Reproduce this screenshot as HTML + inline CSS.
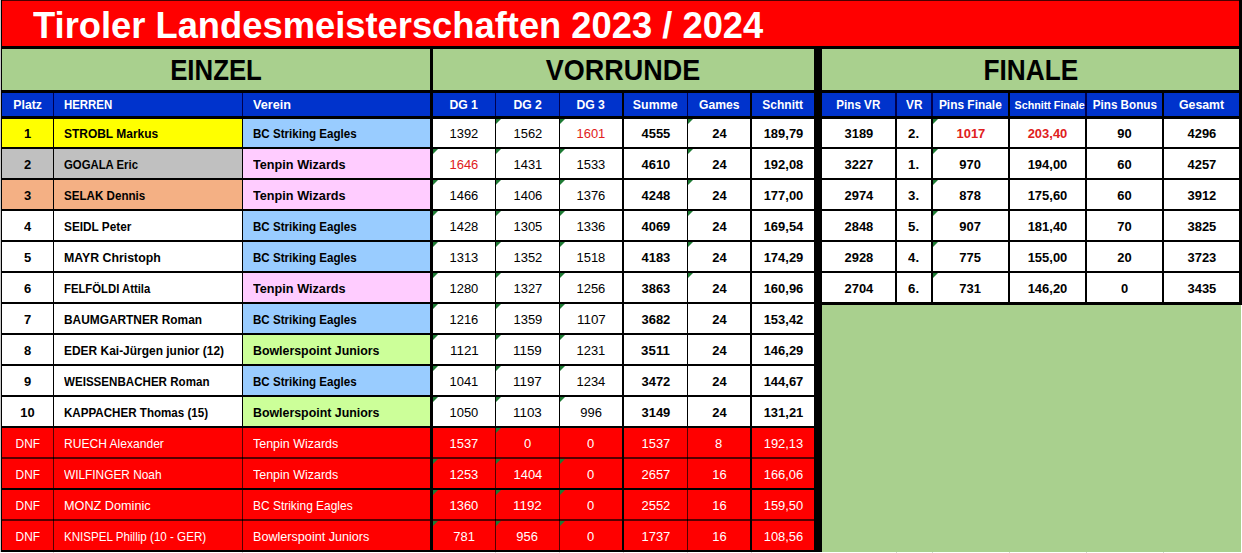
<!DOCTYPE html>
<html><head><meta charset="utf-8"><title>Tiroler Landesmeisterschaften 2023 / 2024</title><style>
html,body{margin:0;padding:0}
body{width:1242px;height:553px;overflow:hidden;position:relative;background:#fff;font-family:"Liberation Sans", sans-serif}
.r{position:absolute}
.t{position:absolute;white-space:pre}
.tri{position:absolute;width:0;height:0;border-top:5px solid #1E7B34;border-right:5px solid transparent}
</style></head><body>
<div class="r" style="left:0px;top:0px;width:1px;height:553px;background:#C8C8C8"></div>
<div class="r" style="left:1px;top:0px;width:1241px;height:552px;background:#000"></div>
<div class="r" style="left:0px;top:552px;width:1242px;height:1px;background:#FFFFFF"></div>
<div class="r" style="left:2px;top:1px;width:1237px;height:45px;background:#FF0000"></div>
<div class="r" style="left:2px;top:0px;width:1237px;height:1px;background:#4A0000"></div>
<div class="r" style="left:53px;top:552px;width:1px;height:1px;background:#D4D4D4"></div>
<div class="r" style="left:242px;top:552px;width:1px;height:1px;background:#D4D4D4"></div>
<div class="r" style="left:495px;top:552px;width:1px;height:1px;background:#D4D4D4"></div>
<div class="r" style="left:559px;top:552px;width:1px;height:1px;background:#D4D4D4"></div>
<div class="r" style="left:623px;top:552px;width:1px;height:1px;background:#D4D4D4"></div>
<div class="r" style="left:687px;top:552px;width:1px;height:1px;background:#D4D4D4"></div>
<div class="r" style="left:751px;top:552px;width:1px;height:1px;background:#D4D4D4"></div>
<div class="r" style="left:896px;top:552px;width:1px;height:1px;background:#D4D4D4"></div>
<div class="r" style="left:932px;top:552px;width:1px;height:1px;background:#D4D4D4"></div>
<div class="r" style="left:1009px;top:552px;width:1px;height:1px;background:#D4D4D4"></div>
<div class="r" style="left:1086px;top:552px;width:1px;height:1px;background:#D4D4D4"></div>
<div class="r" style="left:1163px;top:552px;width:1px;height:1px;background:#D4D4D4"></div>
<div class="r" style="left:2px;top:49px;width:428px;height:41px;background:#A9D08E"></div>
<div class="r" style="left:433px;top:49px;width:381px;height:41px;background:#A9D08E"></div>
<div class="r" style="left:822px;top:49px;width:417px;height:41px;background:#A9D08E"></div>
<div class="r" style="left:2px;top:93px;width:51px;height:23px;background:#0033CC"></div>
<div class="r" style="left:54px;top:93px;width:188px;height:23px;background:#0033CC"></div>
<div class="r" style="left:243px;top:93px;width:187px;height:23px;background:#0033CC"></div>
<div class="r" style="left:433px;top:93px;width:62px;height:23px;background:#0033CC"></div>
<div class="r" style="left:496px;top:93px;width:63px;height:23px;background:#0033CC"></div>
<div class="r" style="left:560px;top:93px;width:62px;height:23px;background:#0033CC"></div>
<div class="r" style="left:624px;top:93px;width:63px;height:23px;background:#0033CC"></div>
<div class="r" style="left:688px;top:93px;width:62px;height:23px;background:#0033CC"></div>
<div class="r" style="left:752px;top:93px;width:62px;height:23px;background:#0033CC"></div>
<div class="r" style="left:822px;top:93px;width:73px;height:23px;background:#0033CC"></div>
<div class="r" style="left:897px;top:93px;width:34px;height:23px;background:#0033CC"></div>
<div class="r" style="left:933px;top:93px;width:75px;height:23px;background:#0033CC"></div>
<div class="r" style="left:1010px;top:93px;width:75px;height:23px;background:#0033CC"></div>
<div class="r" style="left:1087px;top:93px;width:75px;height:23px;background:#0033CC"></div>
<div class="r" style="left:1164px;top:93px;width:75px;height:23px;background:#0033CC"></div>
<div class="r" style="left:53px;top:93px;width:1px;height:23px;background:#00004E"></div>
<div class="r" style="left:242px;top:93px;width:1px;height:23px;background:#00004E"></div>
<div class="r" style="left:495px;top:93px;width:1px;height:23px;background:#00004E"></div>
<div class="r" style="left:559px;top:93px;width:1px;height:23px;background:#00004E"></div>
<div class="r" style="left:687px;top:93px;width:1px;height:23px;background:#00004E"></div>
<div class="r" style="left:895px;top:93px;width:2px;height:23px;background:#00004E"></div>
<div class="r" style="left:931px;top:93px;width:2px;height:23px;background:#00004E"></div>
<div class="r" style="left:1085px;top:93px;width:2px;height:23px;background:#00004E"></div>
<div class="r" style="left:822px;top:305px;width:419px;height:247px;background:#A9D08E"></div>
<div class="r" style="left:1241px;top:305px;width:1px;height:247px;background:#FFFFFF"></div>
<div class="r" style="left:2px;top:119px;width:51px;height:28px;background:#FFFF00"></div>
<div class="r" style="left:54px;top:119px;width:188px;height:28px;background:#FFFF00"></div>
<div class="r" style="left:243px;top:119px;width:187px;height:28px;background:#99CCFF"></div>
<div class="r" style="left:433px;top:119px;width:62px;height:28px;background:#FFFFFF"></div>
<div class="r" style="left:496px;top:119px;width:63px;height:28px;background:#FFFFFF"></div>
<div class="r" style="left:560px;top:119px;width:62px;height:28px;background:#FFFFFF"></div>
<div class="r" style="left:624px;top:119px;width:63px;height:28px;background:#FFFFFF"></div>
<div class="r" style="left:688px;top:119px;width:62px;height:28px;background:#FFFFFF"></div>
<div class="r" style="left:752px;top:119px;width:62px;height:28px;background:#FFFFFF"></div>
<div class="r" style="left:822px;top:119px;width:73px;height:28px;background:#FFFFFF"></div>
<div class="r" style="left:897px;top:119px;width:34px;height:28px;background:#FFFFFF"></div>
<div class="r" style="left:933px;top:119px;width:75px;height:28px;background:#FFFFFF"></div>
<div class="r" style="left:1010px;top:119px;width:75px;height:28px;background:#FFFFFF"></div>
<div class="r" style="left:1087px;top:119px;width:75px;height:28px;background:#FFFFFF"></div>
<div class="r" style="left:1164px;top:119px;width:75px;height:28px;background:#FFFFFF"></div>
<div class="r" style="left:2px;top:149px;width:51px;height:29px;background:#C0C0C0"></div>
<div class="r" style="left:54px;top:149px;width:188px;height:29px;background:#C0C0C0"></div>
<div class="r" style="left:243px;top:149px;width:187px;height:29px;background:#FFCCFF"></div>
<div class="r" style="left:433px;top:149px;width:62px;height:29px;background:#FFFFFF"></div>
<div class="r" style="left:496px;top:149px;width:63px;height:29px;background:#FFFFFF"></div>
<div class="r" style="left:560px;top:149px;width:62px;height:29px;background:#FFFFFF"></div>
<div class="r" style="left:624px;top:149px;width:63px;height:29px;background:#FFFFFF"></div>
<div class="r" style="left:688px;top:149px;width:62px;height:29px;background:#FFFFFF"></div>
<div class="r" style="left:752px;top:149px;width:62px;height:29px;background:#FFFFFF"></div>
<div class="r" style="left:822px;top:149px;width:73px;height:29px;background:#FFFFFF"></div>
<div class="r" style="left:897px;top:149px;width:34px;height:29px;background:#FFFFFF"></div>
<div class="r" style="left:933px;top:149px;width:75px;height:29px;background:#FFFFFF"></div>
<div class="r" style="left:1010px;top:149px;width:75px;height:29px;background:#FFFFFF"></div>
<div class="r" style="left:1087px;top:149px;width:75px;height:29px;background:#FFFFFF"></div>
<div class="r" style="left:1164px;top:149px;width:75px;height:29px;background:#FFFFFF"></div>
<div class="r" style="left:2px;top:180px;width:51px;height:29px;background:#F4B084"></div>
<div class="r" style="left:54px;top:180px;width:188px;height:29px;background:#F4B084"></div>
<div class="r" style="left:243px;top:180px;width:187px;height:29px;background:#FFCCFF"></div>
<div class="r" style="left:433px;top:180px;width:62px;height:29px;background:#FFFFFF"></div>
<div class="r" style="left:496px;top:180px;width:63px;height:29px;background:#FFFFFF"></div>
<div class="r" style="left:560px;top:180px;width:62px;height:29px;background:#FFFFFF"></div>
<div class="r" style="left:624px;top:180px;width:63px;height:29px;background:#FFFFFF"></div>
<div class="r" style="left:688px;top:180px;width:62px;height:29px;background:#FFFFFF"></div>
<div class="r" style="left:752px;top:180px;width:62px;height:29px;background:#FFFFFF"></div>
<div class="r" style="left:822px;top:180px;width:73px;height:29px;background:#FFFFFF"></div>
<div class="r" style="left:897px;top:180px;width:34px;height:29px;background:#FFFFFF"></div>
<div class="r" style="left:933px;top:180px;width:75px;height:29px;background:#FFFFFF"></div>
<div class="r" style="left:1010px;top:180px;width:75px;height:29px;background:#FFFFFF"></div>
<div class="r" style="left:1087px;top:180px;width:75px;height:29px;background:#FFFFFF"></div>
<div class="r" style="left:1164px;top:180px;width:75px;height:29px;background:#FFFFFF"></div>
<div class="r" style="left:2px;top:211px;width:51px;height:29px;background:#FFFFFF"></div>
<div class="r" style="left:54px;top:211px;width:188px;height:29px;background:#FFFFFF"></div>
<div class="r" style="left:243px;top:211px;width:187px;height:29px;background:#99CCFF"></div>
<div class="r" style="left:433px;top:211px;width:62px;height:29px;background:#FFFFFF"></div>
<div class="r" style="left:496px;top:211px;width:63px;height:29px;background:#FFFFFF"></div>
<div class="r" style="left:560px;top:211px;width:62px;height:29px;background:#FFFFFF"></div>
<div class="r" style="left:624px;top:211px;width:63px;height:29px;background:#FFFFFF"></div>
<div class="r" style="left:688px;top:211px;width:62px;height:29px;background:#FFFFFF"></div>
<div class="r" style="left:752px;top:211px;width:62px;height:29px;background:#FFFFFF"></div>
<div class="r" style="left:822px;top:211px;width:73px;height:29px;background:#FFFFFF"></div>
<div class="r" style="left:897px;top:211px;width:34px;height:29px;background:#FFFFFF"></div>
<div class="r" style="left:933px;top:211px;width:75px;height:29px;background:#FFFFFF"></div>
<div class="r" style="left:1010px;top:211px;width:75px;height:29px;background:#FFFFFF"></div>
<div class="r" style="left:1087px;top:211px;width:75px;height:29px;background:#FFFFFF"></div>
<div class="r" style="left:1164px;top:211px;width:75px;height:29px;background:#FFFFFF"></div>
<div class="r" style="left:2px;top:242px;width:51px;height:29px;background:#FFFFFF"></div>
<div class="r" style="left:54px;top:242px;width:188px;height:29px;background:#FFFFFF"></div>
<div class="r" style="left:243px;top:242px;width:187px;height:29px;background:#99CCFF"></div>
<div class="r" style="left:433px;top:242px;width:62px;height:29px;background:#FFFFFF"></div>
<div class="r" style="left:496px;top:242px;width:63px;height:29px;background:#FFFFFF"></div>
<div class="r" style="left:560px;top:242px;width:62px;height:29px;background:#FFFFFF"></div>
<div class="r" style="left:624px;top:242px;width:63px;height:29px;background:#FFFFFF"></div>
<div class="r" style="left:688px;top:242px;width:62px;height:29px;background:#FFFFFF"></div>
<div class="r" style="left:752px;top:242px;width:62px;height:29px;background:#FFFFFF"></div>
<div class="r" style="left:822px;top:242px;width:73px;height:29px;background:#FFFFFF"></div>
<div class="r" style="left:897px;top:242px;width:34px;height:29px;background:#FFFFFF"></div>
<div class="r" style="left:933px;top:242px;width:75px;height:29px;background:#FFFFFF"></div>
<div class="r" style="left:1010px;top:242px;width:75px;height:29px;background:#FFFFFF"></div>
<div class="r" style="left:1087px;top:242px;width:75px;height:29px;background:#FFFFFF"></div>
<div class="r" style="left:1164px;top:242px;width:75px;height:29px;background:#FFFFFF"></div>
<div class="r" style="left:2px;top:273px;width:51px;height:29px;background:#FFFFFF"></div>
<div class="r" style="left:54px;top:273px;width:188px;height:29px;background:#FFFFFF"></div>
<div class="r" style="left:243px;top:273px;width:187px;height:29px;background:#FFCCFF"></div>
<div class="r" style="left:433px;top:273px;width:62px;height:29px;background:#FFFFFF"></div>
<div class="r" style="left:496px;top:273px;width:63px;height:29px;background:#FFFFFF"></div>
<div class="r" style="left:560px;top:273px;width:62px;height:29px;background:#FFFFFF"></div>
<div class="r" style="left:624px;top:273px;width:63px;height:29px;background:#FFFFFF"></div>
<div class="r" style="left:688px;top:273px;width:62px;height:29px;background:#FFFFFF"></div>
<div class="r" style="left:752px;top:273px;width:62px;height:29px;background:#FFFFFF"></div>
<div class="r" style="left:822px;top:273px;width:73px;height:29px;background:#FFFFFF"></div>
<div class="r" style="left:897px;top:273px;width:34px;height:29px;background:#FFFFFF"></div>
<div class="r" style="left:933px;top:273px;width:75px;height:29px;background:#FFFFFF"></div>
<div class="r" style="left:1010px;top:273px;width:75px;height:29px;background:#FFFFFF"></div>
<div class="r" style="left:1087px;top:273px;width:75px;height:29px;background:#FFFFFF"></div>
<div class="r" style="left:1164px;top:273px;width:75px;height:29px;background:#FFFFFF"></div>
<div class="r" style="left:2px;top:304px;width:51px;height:29px;background:#FFFFFF"></div>
<div class="r" style="left:54px;top:304px;width:188px;height:29px;background:#FFFFFF"></div>
<div class="r" style="left:243px;top:304px;width:187px;height:29px;background:#99CCFF"></div>
<div class="r" style="left:433px;top:304px;width:62px;height:29px;background:#FFFFFF"></div>
<div class="r" style="left:496px;top:304px;width:63px;height:29px;background:#FFFFFF"></div>
<div class="r" style="left:560px;top:304px;width:62px;height:29px;background:#FFFFFF"></div>
<div class="r" style="left:624px;top:304px;width:63px;height:29px;background:#FFFFFF"></div>
<div class="r" style="left:688px;top:304px;width:62px;height:29px;background:#FFFFFF"></div>
<div class="r" style="left:752px;top:304px;width:62px;height:29px;background:#FFFFFF"></div>
<div class="r" style="left:2px;top:335px;width:51px;height:29px;background:#FFFFFF"></div>
<div class="r" style="left:54px;top:335px;width:188px;height:29px;background:#FFFFFF"></div>
<div class="r" style="left:243px;top:335px;width:187px;height:29px;background:#CCFF99"></div>
<div class="r" style="left:433px;top:335px;width:62px;height:29px;background:#FFFFFF"></div>
<div class="r" style="left:496px;top:335px;width:63px;height:29px;background:#FFFFFF"></div>
<div class="r" style="left:560px;top:335px;width:62px;height:29px;background:#FFFFFF"></div>
<div class="r" style="left:624px;top:335px;width:63px;height:29px;background:#FFFFFF"></div>
<div class="r" style="left:688px;top:335px;width:62px;height:29px;background:#FFFFFF"></div>
<div class="r" style="left:752px;top:335px;width:62px;height:29px;background:#FFFFFF"></div>
<div class="r" style="left:2px;top:366px;width:51px;height:29px;background:#FFFFFF"></div>
<div class="r" style="left:54px;top:366px;width:188px;height:29px;background:#FFFFFF"></div>
<div class="r" style="left:243px;top:366px;width:187px;height:29px;background:#99CCFF"></div>
<div class="r" style="left:433px;top:366px;width:62px;height:29px;background:#FFFFFF"></div>
<div class="r" style="left:496px;top:366px;width:63px;height:29px;background:#FFFFFF"></div>
<div class="r" style="left:560px;top:366px;width:62px;height:29px;background:#FFFFFF"></div>
<div class="r" style="left:624px;top:366px;width:63px;height:29px;background:#FFFFFF"></div>
<div class="r" style="left:688px;top:366px;width:62px;height:29px;background:#FFFFFF"></div>
<div class="r" style="left:752px;top:366px;width:62px;height:29px;background:#FFFFFF"></div>
<div class="r" style="left:2px;top:397px;width:51px;height:29px;background:#FFFFFF"></div>
<div class="r" style="left:54px;top:397px;width:188px;height:29px;background:#FFFFFF"></div>
<div class="r" style="left:243px;top:397px;width:187px;height:29px;background:#CCFF99"></div>
<div class="r" style="left:433px;top:397px;width:62px;height:29px;background:#FFFFFF"></div>
<div class="r" style="left:496px;top:397px;width:63px;height:29px;background:#FFFFFF"></div>
<div class="r" style="left:560px;top:397px;width:62px;height:29px;background:#FFFFFF"></div>
<div class="r" style="left:624px;top:397px;width:63px;height:29px;background:#FFFFFF"></div>
<div class="r" style="left:688px;top:397px;width:62px;height:29px;background:#FFFFFF"></div>
<div class="r" style="left:752px;top:397px;width:62px;height:29px;background:#FFFFFF"></div>
<div class="r" style="left:53px;top:428px;width:1px;height:29px;background:#560000"></div>
<div class="r" style="left:242px;top:428px;width:1px;height:29px;background:#560000"></div>
<div class="r" style="left:495px;top:428px;width:1px;height:29px;background:#560000"></div>
<div class="r" style="left:559px;top:428px;width:1px;height:29px;background:#560000"></div>
<div class="r" style="left:687px;top:428px;width:1px;height:29px;background:#560000"></div>
<div class="r" style="left:2px;top:428px;width:51px;height:29px;background:#FF0000"></div>
<div class="r" style="left:54px;top:428px;width:188px;height:29px;background:#FF0000"></div>
<div class="r" style="left:243px;top:428px;width:187px;height:29px;background:#FF0000"></div>
<div class="r" style="left:433px;top:428px;width:62px;height:29px;background:#FF0000"></div>
<div class="r" style="left:496px;top:428px;width:63px;height:29px;background:#FF0000"></div>
<div class="r" style="left:560px;top:428px;width:62px;height:29px;background:#FF0000"></div>
<div class="r" style="left:624px;top:428px;width:63px;height:29px;background:#FF0000"></div>
<div class="r" style="left:688px;top:428px;width:62px;height:29px;background:#FF0000"></div>
<div class="r" style="left:752px;top:428px;width:62px;height:29px;background:#FF0000"></div>
<div class="r" style="left:53px;top:459px;width:1px;height:29px;background:#560000"></div>
<div class="r" style="left:242px;top:459px;width:1px;height:29px;background:#560000"></div>
<div class="r" style="left:495px;top:459px;width:1px;height:29px;background:#560000"></div>
<div class="r" style="left:559px;top:459px;width:1px;height:29px;background:#560000"></div>
<div class="r" style="left:687px;top:459px;width:1px;height:29px;background:#560000"></div>
<div class="r" style="left:2px;top:457px;width:51px;height:2px;background:#560000"></div>
<div class="r" style="left:54px;top:457px;width:188px;height:2px;background:#560000"></div>
<div class="r" style="left:243px;top:457px;width:187px;height:2px;background:#560000"></div>
<div class="r" style="left:433px;top:457px;width:62px;height:2px;background:#560000"></div>
<div class="r" style="left:496px;top:457px;width:63px;height:2px;background:#560000"></div>
<div class="r" style="left:560px;top:457px;width:62px;height:2px;background:#560000"></div>
<div class="r" style="left:624px;top:457px;width:63px;height:2px;background:#560000"></div>
<div class="r" style="left:688px;top:457px;width:62px;height:2px;background:#560000"></div>
<div class="r" style="left:752px;top:457px;width:62px;height:2px;background:#560000"></div>
<div class="r" style="left:2px;top:459px;width:51px;height:29px;background:#FF0000"></div>
<div class="r" style="left:54px;top:459px;width:188px;height:29px;background:#FF0000"></div>
<div class="r" style="left:243px;top:459px;width:187px;height:29px;background:#FF0000"></div>
<div class="r" style="left:433px;top:459px;width:62px;height:29px;background:#FF0000"></div>
<div class="r" style="left:496px;top:459px;width:63px;height:29px;background:#FF0000"></div>
<div class="r" style="left:560px;top:459px;width:62px;height:29px;background:#FF0000"></div>
<div class="r" style="left:624px;top:459px;width:63px;height:29px;background:#FF0000"></div>
<div class="r" style="left:688px;top:459px;width:62px;height:29px;background:#FF0000"></div>
<div class="r" style="left:752px;top:459px;width:62px;height:29px;background:#FF0000"></div>
<div class="r" style="left:53px;top:490px;width:1px;height:29px;background:#560000"></div>
<div class="r" style="left:242px;top:490px;width:1px;height:29px;background:#560000"></div>
<div class="r" style="left:495px;top:490px;width:1px;height:29px;background:#560000"></div>
<div class="r" style="left:559px;top:490px;width:1px;height:29px;background:#560000"></div>
<div class="r" style="left:687px;top:490px;width:1px;height:29px;background:#560000"></div>
<div class="r" style="left:2px;top:490px;width:51px;height:29px;background:#FF0000"></div>
<div class="r" style="left:54px;top:490px;width:188px;height:29px;background:#FF0000"></div>
<div class="r" style="left:243px;top:490px;width:187px;height:29px;background:#FF0000"></div>
<div class="r" style="left:433px;top:490px;width:62px;height:29px;background:#FF0000"></div>
<div class="r" style="left:496px;top:490px;width:63px;height:29px;background:#FF0000"></div>
<div class="r" style="left:560px;top:490px;width:62px;height:29px;background:#FF0000"></div>
<div class="r" style="left:624px;top:490px;width:63px;height:29px;background:#FF0000"></div>
<div class="r" style="left:688px;top:490px;width:62px;height:29px;background:#FF0000"></div>
<div class="r" style="left:752px;top:490px;width:62px;height:29px;background:#FF0000"></div>
<div class="r" style="left:53px;top:521px;width:1px;height:29px;background:#560000"></div>
<div class="r" style="left:242px;top:521px;width:1px;height:29px;background:#560000"></div>
<div class="r" style="left:495px;top:521px;width:1px;height:29px;background:#560000"></div>
<div class="r" style="left:559px;top:521px;width:1px;height:29px;background:#560000"></div>
<div class="r" style="left:687px;top:521px;width:1px;height:29px;background:#560000"></div>
<div class="r" style="left:2px;top:519px;width:51px;height:2px;background:#560000"></div>
<div class="r" style="left:54px;top:519px;width:188px;height:2px;background:#560000"></div>
<div class="r" style="left:243px;top:519px;width:187px;height:2px;background:#560000"></div>
<div class="r" style="left:433px;top:519px;width:62px;height:2px;background:#560000"></div>
<div class="r" style="left:496px;top:519px;width:63px;height:2px;background:#560000"></div>
<div class="r" style="left:560px;top:519px;width:62px;height:2px;background:#560000"></div>
<div class="r" style="left:624px;top:519px;width:63px;height:2px;background:#560000"></div>
<div class="r" style="left:688px;top:519px;width:62px;height:2px;background:#560000"></div>
<div class="r" style="left:752px;top:519px;width:62px;height:2px;background:#560000"></div>
<div class="r" style="left:2px;top:521px;width:51px;height:29px;background:#FF0000"></div>
<div class="r" style="left:54px;top:521px;width:188px;height:29px;background:#FF0000"></div>
<div class="r" style="left:243px;top:521px;width:187px;height:29px;background:#FF0000"></div>
<div class="r" style="left:433px;top:521px;width:62px;height:29px;background:#FF0000"></div>
<div class="r" style="left:496px;top:521px;width:63px;height:29px;background:#FF0000"></div>
<div class="r" style="left:560px;top:521px;width:62px;height:29px;background:#FF0000"></div>
<div class="r" style="left:624px;top:521px;width:63px;height:29px;background:#FF0000"></div>
<div class="r" style="left:688px;top:521px;width:62px;height:29px;background:#FF0000"></div>
<div class="r" style="left:752px;top:521px;width:62px;height:29px;background:#FF0000"></div>
<div class="tri" style="left:496px;top:119px"></div>
<div class="tri" style="left:560px;top:119px"></div>
<div class="tri" style="left:688px;top:119px"></div>
<div class="tri" style="left:933px;top:119px"></div>
<div class="tri" style="left:433px;top:149px"></div>
<div class="tri" style="left:496px;top:149px"></div>
<div class="tri" style="left:560px;top:149px"></div>
<div class="tri" style="left:688px;top:149px"></div>
<div class="tri" style="left:933px;top:149px"></div>
<div class="tri" style="left:433px;top:180px"></div>
<div class="tri" style="left:496px;top:180px"></div>
<div class="tri" style="left:560px;top:180px"></div>
<div class="tri" style="left:688px;top:180px"></div>
<div class="tri" style="left:933px;top:180px"></div>
<div class="tri" style="left:433px;top:211px"></div>
<div class="tri" style="left:496px;top:211px"></div>
<div class="tri" style="left:560px;top:211px"></div>
<div class="tri" style="left:688px;top:211px"></div>
<div class="tri" style="left:933px;top:211px"></div>
<div class="tri" style="left:433px;top:242px"></div>
<div class="tri" style="left:496px;top:242px"></div>
<div class="tri" style="left:560px;top:242px"></div>
<div class="tri" style="left:688px;top:242px"></div>
<div class="tri" style="left:933px;top:242px"></div>
<div class="tri" style="left:433px;top:273px"></div>
<div class="tri" style="left:496px;top:273px"></div>
<div class="tri" style="left:560px;top:273px"></div>
<div class="tri" style="left:688px;top:273px"></div>
<div class="tri" style="left:933px;top:273px"></div>
<div class="tri" style="left:433px;top:304px"></div>
<div class="tri" style="left:496px;top:304px"></div>
<div class="tri" style="left:560px;top:304px"></div>
<div class="tri" style="left:433px;top:335px"></div>
<div class="tri" style="left:496px;top:335px"></div>
<div class="tri" style="left:560px;top:335px"></div>
<div class="tri" style="left:433px;top:366px"></div>
<div class="tri" style="left:496px;top:366px"></div>
<div class="tri" style="left:560px;top:366px"></div>
<div class="tri" style="left:433px;top:397px"></div>
<div class="tri" style="left:496px;top:397px"></div>
<div class="tri" style="left:560px;top:397px"></div>
<div class="tri" style="left:496px;top:428px"></div>
<div class="tri" style="left:433px;top:459px"></div>
<div class="tri" style="left:496px;top:459px"></div>
<div class="tri" style="left:560px;top:459px"></div>
<div class="tri" style="left:433px;top:490px"></div>
<div class="tri" style="left:496px;top:490px"></div>
<div class="tri" style="left:560px;top:490px"></div>
<div class="tri" style="left:433px;top:521px"></div>
<div class="tri" style="left:496px;top:521px"></div>
<div class="tri" style="left:560px;top:521px"></div>
<div class="t" style="top:98.00px;font-size:13.4px;line-height:13.4px;font-weight:bold;color:#fff;left:11.87px;transform:scaleX(0.9123);transform-origin:15.63px 0;">Platz</div>
<div class="t" style="top:98.00px;font-size:13.4px;line-height:13.4px;font-weight:bold;color:#fff;left:64.00px;transform:scaleX(0.8526);transform-origin:0 0;">HERREN</div>
<div class="t" style="top:98.00px;font-size:13.4px;line-height:13.4px;font-weight:bold;color:#fff;left:253.00px;transform:scaleX(0.9455);transform-origin:0 0;">Verein</div>
<div class="t" style="top:98.00px;font-size:13.4px;line-height:13.4px;font-weight:bold;color:#fff;left:448.37px;transform:scaleX(0.9099);transform-origin:15.63px 0;">DG 1</div>
<div class="t" style="top:98.00px;font-size:13.4px;line-height:13.4px;font-weight:bold;color:#fff;left:511.87px;transform:scaleX(0.9099);transform-origin:15.63px 0;">DG 2</div>
<div class="t" style="top:98.00px;font-size:13.4px;line-height:13.4px;font-weight:bold;color:#fff;left:575.37px;transform:scaleX(0.9099);transform-origin:15.63px 0;">DG 3</div>
<div class="t" style="top:98.00px;font-size:13.4px;line-height:13.4px;font-weight:bold;color:#fff;left:631.31px;transform:scaleX(0.9227);transform-origin:24.19px 0;">Summe</div>
<div class="t" style="top:98.00px;font-size:13.4px;line-height:13.4px;font-weight:bold;color:#fff;left:696.66px;transform:scaleX(0.9062);transform-origin:22.34px 0;">Games</div>
<div class="t" style="top:98.00px;font-size:13.4px;line-height:13.4px;font-weight:bold;color:#fff;left:760.30px;transform:scaleX(0.8979);transform-origin:22.70px 0;">Schnitt</div>
<div class="t" style="top:98.00px;font-size:13.4px;line-height:13.4px;font-weight:bold;color:#fff;left:833.20px;transform:scaleX(0.8691);transform-origin:25.30px 0;">Pins VR</div>
<div class="t" style="top:98.00px;font-size:13.4px;line-height:13.4px;font-weight:bold;color:#fff;left:904.70px;transform:scaleX(0.8820);transform-origin:9.30px 0;">VR</div>
<div class="t" style="top:98.00px;font-size:13.4px;line-height:13.4px;font-weight:bold;color:#fff;left:935.15px;transform:scaleX(0.8896);transform-origin:35.35px 0;">Pins Finale</div>
<div class="t" style="top:100.00px;font-size:11.2px;line-height:11.2px;font-weight:bold;color:#fff;left:1012.82px;transform:scaleX(0.9579);transform-origin:36.68px 0;">Schnitt Finale</div>
<div class="t" style="top:98.00px;font-size:13.4px;line-height:13.4px;font-weight:bold;color:#fff;left:1087.67px;transform:scaleX(0.8706);transform-origin:36.83px 0;">Pins Bonus</div>
<div class="t" style="top:98.00px;font-size:13.4px;line-height:13.4px;font-weight:bold;color:#fff;left:1176.94px;transform:scaleX(0.9216);transform-origin:24.56px 0;">Gesamt</div>
<div class="t" style="top:127.00px;font-size:13.4px;line-height:13.4px;font-weight:bold;color:#000000;left:23.77px;transform:scaleX(0.9680);transform-origin:3.73px 0;">1</div>
<div class="t" style="top:127.00px;font-size:13.4px;line-height:13.4px;font-weight:bold;color:#000000;left:64.00px;transform:scaleX(0.8933);transform-origin:0 0;">STROBL Markus</div>
<div class="t" style="top:127.00px;font-size:13.4px;line-height:13.4px;font-weight:bold;color:#000000;left:253.00px;transform:scaleX(0.8650);transform-origin:0 0;">BC Striking Eagles</div>
<div class="t" style="top:127.00px;font-size:13.4px;line-height:13.4px;font-weight:normal;color:#000000;left:449.10px;transform:scaleX(0.9675);transform-origin:14.90px 0;">1392</div>
<div class="t" style="top:127.00px;font-size:13.4px;line-height:13.4px;font-weight:normal;color:#000000;left:512.60px;transform:scaleX(0.9675);transform-origin:14.90px 0;">1562</div>
<div class="t" style="top:127.00px;font-size:13.4px;line-height:13.4px;font-weight:normal;color:#E02020;left:576.10px;transform:scaleX(0.9675);transform-origin:14.90px 0;">1601</div>
<div class="t" style="top:127.00px;font-size:13.4px;line-height:13.4px;font-weight:bold;color:#000000;left:640.60px;transform:scaleX(0.9675);transform-origin:14.90px 0;">4555</div>
<div class="t" style="top:127.00px;font-size:13.4px;line-height:13.4px;font-weight:bold;color:#000000;left:711.55px;transform:scaleX(0.9669);transform-origin:7.45px 0;">24</div>
<div class="t" style="top:127.00px;font-size:13.4px;line-height:13.4px;font-weight:bold;color:#000000;left:762.52px;transform:scaleX(0.9689);transform-origin:20.48px 0;">189,79</div>
<div class="t" style="top:127.00px;font-size:13.4px;line-height:13.4px;font-weight:bold;color:#000000;left:843.60px;transform:scaleX(0.9675);transform-origin:14.90px 0;">3189</div>
<div class="t" style="top:127.00px;font-size:13.4px;line-height:13.4px;font-weight:bold;color:#000000;left:908.41px;transform:scaleX(0.9849);transform-origin:5.59px 0;">2.</div>
<div class="t" style="top:127.00px;font-size:13.4px;line-height:13.4px;font-weight:bold;color:#E02020;left:955.60px;transform:scaleX(0.9675);transform-origin:14.90px 0;">1017</div>
<div class="t" style="top:127.00px;font-size:13.4px;line-height:13.4px;font-weight:bold;color:#E02020;left:1027.02px;transform:scaleX(0.9689);transform-origin:20.48px 0;">203,40</div>
<div class="t" style="top:127.00px;font-size:13.4px;line-height:13.4px;font-weight:bold;color:#000000;left:1117.05px;transform:scaleX(0.9669);transform-origin:7.45px 0;">90</div>
<div class="t" style="top:127.00px;font-size:13.4px;line-height:13.4px;font-weight:bold;color:#000000;left:1186.60px;transform:scaleX(0.9675);transform-origin:14.90px 0;">4296</div>
<div class="t" style="top:158.00px;font-size:13.4px;line-height:13.4px;font-weight:bold;color:#000000;left:23.77px;transform:scaleX(0.9680);transform-origin:3.73px 0;">2</div>
<div class="t" style="top:158.00px;font-size:13.4px;line-height:13.4px;font-weight:bold;color:#000000;left:64.00px;transform:scaleX(0.8475);transform-origin:0 0;">GOGALA Eric</div>
<div class="t" style="top:158.00px;font-size:13.4px;line-height:13.4px;font-weight:bold;color:#000000;left:253.00px;transform:scaleX(0.9467);transform-origin:0 0;">Tenpin Wizards</div>
<div class="t" style="top:158.00px;font-size:13.4px;line-height:13.4px;font-weight:normal;color:#E02020;left:449.10px;transform:scaleX(0.9675);transform-origin:14.90px 0;">1646</div>
<div class="t" style="top:158.00px;font-size:13.4px;line-height:13.4px;font-weight:normal;color:#000000;left:512.60px;transform:scaleX(0.9675);transform-origin:14.90px 0;">1431</div>
<div class="t" style="top:158.00px;font-size:13.4px;line-height:13.4px;font-weight:normal;color:#000000;left:576.10px;transform:scaleX(0.9675);transform-origin:14.90px 0;">1533</div>
<div class="t" style="top:158.00px;font-size:13.4px;line-height:13.4px;font-weight:bold;color:#000000;left:640.60px;transform:scaleX(0.9675);transform-origin:14.90px 0;">4610</div>
<div class="t" style="top:158.00px;font-size:13.4px;line-height:13.4px;font-weight:bold;color:#000000;left:711.55px;transform:scaleX(0.9669);transform-origin:7.45px 0;">24</div>
<div class="t" style="top:158.00px;font-size:13.4px;line-height:13.4px;font-weight:bold;color:#000000;left:762.52px;transform:scaleX(0.9689);transform-origin:20.48px 0;">192,08</div>
<div class="t" style="top:158.00px;font-size:13.4px;line-height:13.4px;font-weight:bold;color:#000000;left:843.60px;transform:scaleX(0.9675);transform-origin:14.90px 0;">3227</div>
<div class="t" style="top:158.00px;font-size:13.4px;line-height:13.4px;font-weight:bold;color:#000000;left:908.41px;transform:scaleX(0.9849);transform-origin:5.59px 0;">1.</div>
<div class="t" style="top:158.00px;font-size:13.4px;line-height:13.4px;font-weight:bold;color:#000000;left:959.33px;transform:scaleX(0.9680);transform-origin:11.17px 0;">970</div>
<div class="t" style="top:158.00px;font-size:13.4px;line-height:13.4px;font-weight:bold;color:#000000;left:1027.02px;transform:scaleX(0.9689);transform-origin:20.48px 0;">194,00</div>
<div class="t" style="top:158.00px;font-size:13.4px;line-height:13.4px;font-weight:bold;color:#000000;left:1117.05px;transform:scaleX(0.9669);transform-origin:7.45px 0;">60</div>
<div class="t" style="top:158.00px;font-size:13.4px;line-height:13.4px;font-weight:bold;color:#000000;left:1186.60px;transform:scaleX(0.9675);transform-origin:14.90px 0;">4257</div>
<div class="t" style="top:189.00px;font-size:13.4px;line-height:13.4px;font-weight:bold;color:#000000;left:23.77px;transform:scaleX(0.9680);transform-origin:3.73px 0;">3</div>
<div class="t" style="top:189.00px;font-size:13.4px;line-height:13.4px;font-weight:bold;color:#000000;left:64.00px;transform:scaleX(0.8666);transform-origin:0 0;">SELAK Dennis</div>
<div class="t" style="top:189.00px;font-size:13.4px;line-height:13.4px;font-weight:bold;color:#000000;left:253.00px;transform:scaleX(0.9467);transform-origin:0 0;">Tenpin Wizards</div>
<div class="t" style="top:189.00px;font-size:13.4px;line-height:13.4px;font-weight:normal;color:#000000;left:449.10px;transform:scaleX(0.9675);transform-origin:14.90px 0;">1466</div>
<div class="t" style="top:189.00px;font-size:13.4px;line-height:13.4px;font-weight:normal;color:#000000;left:512.60px;transform:scaleX(0.9675);transform-origin:14.90px 0;">1406</div>
<div class="t" style="top:189.00px;font-size:13.4px;line-height:13.4px;font-weight:normal;color:#000000;left:576.10px;transform:scaleX(0.9675);transform-origin:14.90px 0;">1376</div>
<div class="t" style="top:189.00px;font-size:13.4px;line-height:13.4px;font-weight:bold;color:#000000;left:640.60px;transform:scaleX(0.9675);transform-origin:14.90px 0;">4248</div>
<div class="t" style="top:189.00px;font-size:13.4px;line-height:13.4px;font-weight:bold;color:#000000;left:711.55px;transform:scaleX(0.9669);transform-origin:7.45px 0;">24</div>
<div class="t" style="top:189.00px;font-size:13.4px;line-height:13.4px;font-weight:bold;color:#000000;left:762.52px;transform:scaleX(0.9689);transform-origin:20.48px 0;">177,00</div>
<div class="t" style="top:189.00px;font-size:13.4px;line-height:13.4px;font-weight:bold;color:#000000;left:843.60px;transform:scaleX(0.9675);transform-origin:14.90px 0;">2974</div>
<div class="t" style="top:189.00px;font-size:13.4px;line-height:13.4px;font-weight:bold;color:#000000;left:908.41px;transform:scaleX(0.9849);transform-origin:5.59px 0;">3.</div>
<div class="t" style="top:189.00px;font-size:13.4px;line-height:13.4px;font-weight:bold;color:#000000;left:959.33px;transform:scaleX(0.9680);transform-origin:11.17px 0;">878</div>
<div class="t" style="top:189.00px;font-size:13.4px;line-height:13.4px;font-weight:bold;color:#000000;left:1027.02px;transform:scaleX(0.9689);transform-origin:20.48px 0;">175,60</div>
<div class="t" style="top:189.00px;font-size:13.4px;line-height:13.4px;font-weight:bold;color:#000000;left:1117.05px;transform:scaleX(0.9669);transform-origin:7.45px 0;">60</div>
<div class="t" style="top:189.00px;font-size:13.4px;line-height:13.4px;font-weight:bold;color:#000000;left:1186.60px;transform:scaleX(0.9675);transform-origin:14.90px 0;">3912</div>
<div class="t" style="top:220.00px;font-size:13.4px;line-height:13.4px;font-weight:bold;color:#000000;left:23.77px;transform:scaleX(0.9680);transform-origin:3.73px 0;">4</div>
<div class="t" style="top:220.00px;font-size:13.4px;line-height:13.4px;font-weight:bold;color:#000000;left:64.00px;transform:scaleX(0.8821);transform-origin:0 0;">SEIDL Peter</div>
<div class="t" style="top:220.00px;font-size:13.4px;line-height:13.4px;font-weight:bold;color:#000000;left:253.00px;transform:scaleX(0.8650);transform-origin:0 0;">BC Striking Eagles</div>
<div class="t" style="top:220.00px;font-size:13.4px;line-height:13.4px;font-weight:normal;color:#000000;left:449.10px;transform:scaleX(0.9675);transform-origin:14.90px 0;">1428</div>
<div class="t" style="top:220.00px;font-size:13.4px;line-height:13.4px;font-weight:normal;color:#000000;left:512.60px;transform:scaleX(0.9675);transform-origin:14.90px 0;">1305</div>
<div class="t" style="top:220.00px;font-size:13.4px;line-height:13.4px;font-weight:normal;color:#000000;left:576.10px;transform:scaleX(0.9675);transform-origin:14.90px 0;">1336</div>
<div class="t" style="top:220.00px;font-size:13.4px;line-height:13.4px;font-weight:bold;color:#000000;left:640.60px;transform:scaleX(0.9675);transform-origin:14.90px 0;">4069</div>
<div class="t" style="top:220.00px;font-size:13.4px;line-height:13.4px;font-weight:bold;color:#000000;left:711.55px;transform:scaleX(0.9669);transform-origin:7.45px 0;">24</div>
<div class="t" style="top:220.00px;font-size:13.4px;line-height:13.4px;font-weight:bold;color:#000000;left:762.52px;transform:scaleX(0.9689);transform-origin:20.48px 0;">169,54</div>
<div class="t" style="top:220.00px;font-size:13.4px;line-height:13.4px;font-weight:bold;color:#000000;left:843.60px;transform:scaleX(0.9675);transform-origin:14.90px 0;">2848</div>
<div class="t" style="top:220.00px;font-size:13.4px;line-height:13.4px;font-weight:bold;color:#000000;left:908.41px;transform:scaleX(0.9849);transform-origin:5.59px 0;">5.</div>
<div class="t" style="top:220.00px;font-size:13.4px;line-height:13.4px;font-weight:bold;color:#000000;left:959.33px;transform:scaleX(0.9680);transform-origin:11.17px 0;">907</div>
<div class="t" style="top:220.00px;font-size:13.4px;line-height:13.4px;font-weight:bold;color:#000000;left:1027.02px;transform:scaleX(0.9689);transform-origin:20.48px 0;">181,40</div>
<div class="t" style="top:220.00px;font-size:13.4px;line-height:13.4px;font-weight:bold;color:#000000;left:1117.05px;transform:scaleX(0.9669);transform-origin:7.45px 0;">70</div>
<div class="t" style="top:220.00px;font-size:13.4px;line-height:13.4px;font-weight:bold;color:#000000;left:1186.60px;transform:scaleX(0.9675);transform-origin:14.90px 0;">3825</div>
<div class="t" style="top:251.00px;font-size:13.4px;line-height:13.4px;font-weight:bold;color:#000000;left:23.77px;transform:scaleX(0.9680);transform-origin:3.73px 0;">5</div>
<div class="t" style="top:251.00px;font-size:13.4px;line-height:13.4px;font-weight:bold;color:#000000;left:64.00px;transform:scaleX(0.9207);transform-origin:0 0;">MAYR Christoph</div>
<div class="t" style="top:251.00px;font-size:13.4px;line-height:13.4px;font-weight:bold;color:#000000;left:253.00px;transform:scaleX(0.8650);transform-origin:0 0;">BC Striking Eagles</div>
<div class="t" style="top:251.00px;font-size:13.4px;line-height:13.4px;font-weight:normal;color:#000000;left:449.10px;transform:scaleX(0.9675);transform-origin:14.90px 0;">1313</div>
<div class="t" style="top:251.00px;font-size:13.4px;line-height:13.4px;font-weight:normal;color:#000000;left:512.60px;transform:scaleX(0.9675);transform-origin:14.90px 0;">1352</div>
<div class="t" style="top:251.00px;font-size:13.4px;line-height:13.4px;font-weight:normal;color:#000000;left:576.10px;transform:scaleX(0.9675);transform-origin:14.90px 0;">1518</div>
<div class="t" style="top:251.00px;font-size:13.4px;line-height:13.4px;font-weight:bold;color:#000000;left:640.60px;transform:scaleX(0.9675);transform-origin:14.90px 0;">4183</div>
<div class="t" style="top:251.00px;font-size:13.4px;line-height:13.4px;font-weight:bold;color:#000000;left:711.55px;transform:scaleX(0.9669);transform-origin:7.45px 0;">24</div>
<div class="t" style="top:251.00px;font-size:13.4px;line-height:13.4px;font-weight:bold;color:#000000;left:762.52px;transform:scaleX(0.9689);transform-origin:20.48px 0;">174,29</div>
<div class="t" style="top:251.00px;font-size:13.4px;line-height:13.4px;font-weight:bold;color:#000000;left:843.60px;transform:scaleX(0.9675);transform-origin:14.90px 0;">2928</div>
<div class="t" style="top:251.00px;font-size:13.4px;line-height:13.4px;font-weight:bold;color:#000000;left:908.41px;transform:scaleX(0.9849);transform-origin:5.59px 0;">4.</div>
<div class="t" style="top:251.00px;font-size:13.4px;line-height:13.4px;font-weight:bold;color:#000000;left:959.33px;transform:scaleX(0.9680);transform-origin:11.17px 0;">775</div>
<div class="t" style="top:251.00px;font-size:13.4px;line-height:13.4px;font-weight:bold;color:#000000;left:1027.02px;transform:scaleX(0.9689);transform-origin:20.48px 0;">155,00</div>
<div class="t" style="top:251.00px;font-size:13.4px;line-height:13.4px;font-weight:bold;color:#000000;left:1117.05px;transform:scaleX(0.9669);transform-origin:7.45px 0;">20</div>
<div class="t" style="top:251.00px;font-size:13.4px;line-height:13.4px;font-weight:bold;color:#000000;left:1186.60px;transform:scaleX(0.9675);transform-origin:14.90px 0;">3723</div>
<div class="t" style="top:282.00px;font-size:13.4px;line-height:13.4px;font-weight:bold;color:#000000;left:23.77px;transform:scaleX(0.9680);transform-origin:3.73px 0;">6</div>
<div class="t" style="top:282.00px;font-size:13.4px;line-height:13.4px;font-weight:bold;color:#000000;left:64.00px;transform:scaleX(0.8445);transform-origin:0 0;">FELFÖLDI Attila</div>
<div class="t" style="top:282.00px;font-size:13.4px;line-height:13.4px;font-weight:bold;color:#000000;left:253.00px;transform:scaleX(0.9467);transform-origin:0 0;">Tenpin Wizards</div>
<div class="t" style="top:282.00px;font-size:13.4px;line-height:13.4px;font-weight:normal;color:#000000;left:449.10px;transform:scaleX(0.9675);transform-origin:14.90px 0;">1280</div>
<div class="t" style="top:282.00px;font-size:13.4px;line-height:13.4px;font-weight:normal;color:#000000;left:512.60px;transform:scaleX(0.9675);transform-origin:14.90px 0;">1327</div>
<div class="t" style="top:282.00px;font-size:13.4px;line-height:13.4px;font-weight:normal;color:#000000;left:576.10px;transform:scaleX(0.9675);transform-origin:14.90px 0;">1256</div>
<div class="t" style="top:282.00px;font-size:13.4px;line-height:13.4px;font-weight:bold;color:#000000;left:640.60px;transform:scaleX(0.9675);transform-origin:14.90px 0;">3863</div>
<div class="t" style="top:282.00px;font-size:13.4px;line-height:13.4px;font-weight:bold;color:#000000;left:711.55px;transform:scaleX(0.9669);transform-origin:7.45px 0;">24</div>
<div class="t" style="top:282.00px;font-size:13.4px;line-height:13.4px;font-weight:bold;color:#000000;left:762.52px;transform:scaleX(0.9689);transform-origin:20.48px 0;">160,96</div>
<div class="t" style="top:282.00px;font-size:13.4px;line-height:13.4px;font-weight:bold;color:#000000;left:843.60px;transform:scaleX(0.9675);transform-origin:14.90px 0;">2704</div>
<div class="t" style="top:282.00px;font-size:13.4px;line-height:13.4px;font-weight:bold;color:#000000;left:908.41px;transform:scaleX(0.9849);transform-origin:5.59px 0;">6.</div>
<div class="t" style="top:282.00px;font-size:13.4px;line-height:13.4px;font-weight:bold;color:#000000;left:959.33px;transform:scaleX(0.9680);transform-origin:11.17px 0;">731</div>
<div class="t" style="top:282.00px;font-size:13.4px;line-height:13.4px;font-weight:bold;color:#000000;left:1027.02px;transform:scaleX(0.9689);transform-origin:20.48px 0;">146,20</div>
<div class="t" style="top:282.00px;font-size:13.4px;line-height:13.4px;font-weight:bold;color:#000000;left:1120.77px;transform:scaleX(0.9680);transform-origin:3.73px 0;">0</div>
<div class="t" style="top:282.00px;font-size:13.4px;line-height:13.4px;font-weight:bold;color:#000000;left:1186.60px;transform:scaleX(0.9675);transform-origin:14.90px 0;">3435</div>
<div class="t" style="top:313.00px;font-size:13.4px;line-height:13.4px;font-weight:bold;color:#000000;left:23.77px;transform:scaleX(0.9680);transform-origin:3.73px 0;">7</div>
<div class="t" style="top:313.00px;font-size:13.4px;line-height:13.4px;font-weight:bold;color:#000000;left:64.00px;transform:scaleX(0.8876);transform-origin:0 0;">BAUMGARTNER Roman</div>
<div class="t" style="top:313.00px;font-size:13.4px;line-height:13.4px;font-weight:bold;color:#000000;left:253.00px;transform:scaleX(0.8650);transform-origin:0 0;">BC Striking Eagles</div>
<div class="t" style="top:313.00px;font-size:13.4px;line-height:13.4px;font-weight:normal;color:#000000;left:449.10px;transform:scaleX(0.9675);transform-origin:14.90px 0;">1216</div>
<div class="t" style="top:313.00px;font-size:13.4px;line-height:13.4px;font-weight:normal;color:#000000;left:512.60px;transform:scaleX(0.9675);transform-origin:14.90px 0;">1359</div>
<div class="t" style="top:313.00px;font-size:13.4px;line-height:13.4px;font-weight:normal;color:#000000;left:576.60px;transform:scaleX(1.0011);transform-origin:14.40px 0;">1107</div>
<div class="t" style="top:313.00px;font-size:13.4px;line-height:13.4px;font-weight:bold;color:#000000;left:640.60px;transform:scaleX(0.9675);transform-origin:14.90px 0;">3682</div>
<div class="t" style="top:313.00px;font-size:13.4px;line-height:13.4px;font-weight:bold;color:#000000;left:711.55px;transform:scaleX(0.9669);transform-origin:7.45px 0;">24</div>
<div class="t" style="top:313.00px;font-size:13.4px;line-height:13.4px;font-weight:bold;color:#000000;left:762.52px;transform:scaleX(0.9689);transform-origin:20.48px 0;">153,42</div>
<div class="t" style="top:344.00px;font-size:13.4px;line-height:13.4px;font-weight:bold;color:#000000;left:23.77px;transform:scaleX(0.9680);transform-origin:3.73px 0;">8</div>
<div class="t" style="top:344.00px;font-size:13.4px;line-height:13.4px;font-weight:bold;color:#000000;left:64.00px;transform:scaleX(0.8928);transform-origin:0 0;">EDER Kai-Jürgen junior (12)</div>
<div class="t" style="top:344.00px;font-size:13.4px;line-height:13.4px;font-weight:bold;color:#000000;left:253.00px;transform:scaleX(0.9238);transform-origin:0 0;">Bowlerspoint Juniors</div>
<div class="t" style="top:344.00px;font-size:13.4px;line-height:13.4px;font-weight:normal;color:#000000;left:449.60px;transform:scaleX(1.0011);transform-origin:14.40px 0;">1121</div>
<div class="t" style="top:344.00px;font-size:13.4px;line-height:13.4px;font-weight:normal;color:#000000;left:513.10px;transform:scaleX(1.0011);transform-origin:14.40px 0;">1159</div>
<div class="t" style="top:344.00px;font-size:13.4px;line-height:13.4px;font-weight:normal;color:#000000;left:576.10px;transform:scaleX(0.9675);transform-origin:14.90px 0;">1231</div>
<div class="t" style="top:344.00px;font-size:13.4px;line-height:13.4px;font-weight:bold;color:#000000;left:640.97px;transform:scaleX(0.9919);transform-origin:14.53px 0;">3511</div>
<div class="t" style="top:344.00px;font-size:13.4px;line-height:13.4px;font-weight:bold;color:#000000;left:711.55px;transform:scaleX(0.9669);transform-origin:7.45px 0;">24</div>
<div class="t" style="top:344.00px;font-size:13.4px;line-height:13.4px;font-weight:bold;color:#000000;left:762.52px;transform:scaleX(0.9689);transform-origin:20.48px 0;">146,29</div>
<div class="t" style="top:375.00px;font-size:13.4px;line-height:13.4px;font-weight:bold;color:#000000;left:23.77px;transform:scaleX(0.9680);transform-origin:3.73px 0;">9</div>
<div class="t" style="top:375.00px;font-size:13.4px;line-height:13.4px;font-weight:bold;color:#000000;left:64.00px;transform:scaleX(0.8651);transform-origin:0 0;">WEISSENBACHER Roman</div>
<div class="t" style="top:375.00px;font-size:13.4px;line-height:13.4px;font-weight:bold;color:#000000;left:253.00px;transform:scaleX(0.8650);transform-origin:0 0;">BC Striking Eagles</div>
<div class="t" style="top:375.00px;font-size:13.4px;line-height:13.4px;font-weight:normal;color:#000000;left:449.10px;transform:scaleX(0.9675);transform-origin:14.90px 0;">1041</div>
<div class="t" style="top:375.00px;font-size:13.4px;line-height:13.4px;font-weight:normal;color:#000000;left:513.10px;transform:scaleX(1.0011);transform-origin:14.40px 0;">1197</div>
<div class="t" style="top:375.00px;font-size:13.4px;line-height:13.4px;font-weight:normal;color:#000000;left:576.10px;transform:scaleX(0.9675);transform-origin:14.90px 0;">1234</div>
<div class="t" style="top:375.00px;font-size:13.4px;line-height:13.4px;font-weight:bold;color:#000000;left:640.60px;transform:scaleX(0.9675);transform-origin:14.90px 0;">3472</div>
<div class="t" style="top:375.00px;font-size:13.4px;line-height:13.4px;font-weight:bold;color:#000000;left:711.55px;transform:scaleX(0.9669);transform-origin:7.45px 0;">24</div>
<div class="t" style="top:375.00px;font-size:13.4px;line-height:13.4px;font-weight:bold;color:#000000;left:762.52px;transform:scaleX(0.9689);transform-origin:20.48px 0;">144,67</div>
<div class="t" style="top:406.00px;font-size:13.4px;line-height:13.4px;font-weight:bold;color:#000000;left:20.05px;transform:scaleX(0.9669);transform-origin:7.45px 0;">10</div>
<div class="t" style="top:406.00px;font-size:13.4px;line-height:13.4px;font-weight:bold;color:#000000;left:64.00px;transform:scaleX(0.8658);transform-origin:0 0;">KAPPACHER Thomas (15)</div>
<div class="t" style="top:406.00px;font-size:13.4px;line-height:13.4px;font-weight:bold;color:#000000;left:253.00px;transform:scaleX(0.9238);transform-origin:0 0;">Bowlerspoint Juniors</div>
<div class="t" style="top:406.00px;font-size:13.4px;line-height:13.4px;font-weight:normal;color:#000000;left:449.10px;transform:scaleX(0.9675);transform-origin:14.90px 0;">1050</div>
<div class="t" style="top:406.00px;font-size:13.4px;line-height:13.4px;font-weight:normal;color:#000000;left:513.10px;transform:scaleX(1.0011);transform-origin:14.40px 0;">1103</div>
<div class="t" style="top:406.00px;font-size:13.4px;line-height:13.4px;font-weight:normal;color:#000000;left:579.83px;transform:scaleX(0.9680);transform-origin:11.17px 0;">996</div>
<div class="t" style="top:406.00px;font-size:13.4px;line-height:13.4px;font-weight:bold;color:#000000;left:640.60px;transform:scaleX(0.9675);transform-origin:14.90px 0;">3149</div>
<div class="t" style="top:406.00px;font-size:13.4px;line-height:13.4px;font-weight:bold;color:#000000;left:711.55px;transform:scaleX(0.9669);transform-origin:7.45px 0;">24</div>
<div class="t" style="top:406.00px;font-size:13.4px;line-height:13.4px;font-weight:bold;color:#000000;left:762.52px;transform:scaleX(0.9689);transform-origin:20.48px 0;">131,21</div>
<div class="t" style="top:437.00px;font-size:13.4px;line-height:13.4px;font-weight:normal;color:#FFFFFF;left:13.73px;transform:scaleX(0.8885);transform-origin:13.77px 0;">DNF</div>
<div class="t" style="top:437.00px;font-size:13.4px;line-height:13.4px;font-weight:normal;color:#FFFFFF;left:64.00px;transform:scaleX(0.9006);transform-origin:0 0;">RUECH Alexander</div>
<div class="t" style="top:437.00px;font-size:13.4px;line-height:13.4px;font-weight:normal;color:#FFFFFF;left:253.00px;transform:scaleX(0.9318);transform-origin:0 0;">Tenpin Wizards</div>
<div class="t" style="top:437.00px;font-size:13.4px;line-height:13.4px;font-weight:normal;color:#FFFFFF;left:449.10px;transform:scaleX(0.9675);transform-origin:14.90px 0;">1537</div>
<div class="t" style="top:437.00px;font-size:13.4px;line-height:13.4px;font-weight:normal;color:#FFFFFF;left:523.77px;transform:scaleX(0.9680);transform-origin:3.73px 0;">0</div>
<div class="t" style="top:437.00px;font-size:13.4px;line-height:13.4px;font-weight:normal;color:#FFFFFF;left:587.27px;transform:scaleX(0.9680);transform-origin:3.73px 0;">0</div>
<div class="t" style="top:437.00px;font-size:13.4px;line-height:13.4px;font-weight:normal;color:#FFFFFF;left:640.60px;transform:scaleX(0.9675);transform-origin:14.90px 0;">1537</div>
<div class="t" style="top:437.00px;font-size:13.4px;line-height:13.4px;font-weight:normal;color:#FFFFFF;left:715.27px;transform:scaleX(0.9680);transform-origin:3.73px 0;">8</div>
<div class="t" style="top:437.00px;font-size:13.4px;line-height:13.4px;font-weight:normal;color:#FFFFFF;left:762.52px;transform:scaleX(0.9663);transform-origin:20.48px 0;">192,13</div>
<div class="t" style="top:468.00px;font-size:13.4px;line-height:13.4px;font-weight:normal;color:#FFFFFF;left:13.73px;transform:scaleX(0.8885);transform-origin:13.77px 0;">DNF</div>
<div class="t" style="top:468.00px;font-size:13.4px;line-height:13.4px;font-weight:normal;color:#FFFFFF;left:64.00px;transform:scaleX(0.8853);transform-origin:0 0;">WILFINGER Noah</div>
<div class="t" style="top:468.00px;font-size:13.4px;line-height:13.4px;font-weight:normal;color:#FFFFFF;left:253.00px;transform:scaleX(0.9318);transform-origin:0 0;">Tenpin Wizards</div>
<div class="t" style="top:468.00px;font-size:13.4px;line-height:13.4px;font-weight:normal;color:#FFFFFF;left:449.10px;transform:scaleX(0.9675);transform-origin:14.90px 0;">1253</div>
<div class="t" style="top:468.00px;font-size:13.4px;line-height:13.4px;font-weight:normal;color:#FFFFFF;left:512.60px;transform:scaleX(0.9675);transform-origin:14.90px 0;">1404</div>
<div class="t" style="top:468.00px;font-size:13.4px;line-height:13.4px;font-weight:normal;color:#FFFFFF;left:587.27px;transform:scaleX(0.9680);transform-origin:3.73px 0;">0</div>
<div class="t" style="top:468.00px;font-size:13.4px;line-height:13.4px;font-weight:normal;color:#FFFFFF;left:640.60px;transform:scaleX(0.9675);transform-origin:14.90px 0;">2657</div>
<div class="t" style="top:468.00px;font-size:13.4px;line-height:13.4px;font-weight:normal;color:#FFFFFF;left:711.55px;transform:scaleX(0.9669);transform-origin:7.45px 0;">16</div>
<div class="t" style="top:468.00px;font-size:13.4px;line-height:13.4px;font-weight:normal;color:#FFFFFF;left:762.52px;transform:scaleX(0.9663);transform-origin:20.48px 0;">166,06</div>
<div class="t" style="top:499.00px;font-size:13.4px;line-height:13.4px;font-weight:normal;color:#FFFFFF;left:13.73px;transform:scaleX(0.8885);transform-origin:13.77px 0;">DNF</div>
<div class="t" style="top:499.00px;font-size:13.4px;line-height:13.4px;font-weight:normal;color:#FFFFFF;left:64.00px;transform:scaleX(0.9463);transform-origin:0 0;">MONZ Dominic</div>
<div class="t" style="top:499.00px;font-size:13.4px;line-height:13.4px;font-weight:normal;color:#FFFFFF;left:253.00px;transform:scaleX(0.8925);transform-origin:0 0;">BC Striking Eagles</div>
<div class="t" style="top:499.00px;font-size:13.4px;line-height:13.4px;font-weight:normal;color:#FFFFFF;left:449.10px;transform:scaleX(0.9675);transform-origin:14.90px 0;">1360</div>
<div class="t" style="top:499.00px;font-size:13.4px;line-height:13.4px;font-weight:normal;color:#FFFFFF;left:513.10px;transform:scaleX(1.0011);transform-origin:14.40px 0;">1192</div>
<div class="t" style="top:499.00px;font-size:13.4px;line-height:13.4px;font-weight:normal;color:#FFFFFF;left:587.27px;transform:scaleX(0.9680);transform-origin:3.73px 0;">0</div>
<div class="t" style="top:499.00px;font-size:13.4px;line-height:13.4px;font-weight:normal;color:#FFFFFF;left:640.60px;transform:scaleX(0.9675);transform-origin:14.90px 0;">2552</div>
<div class="t" style="top:499.00px;font-size:13.4px;line-height:13.4px;font-weight:normal;color:#FFFFFF;left:711.55px;transform:scaleX(0.9669);transform-origin:7.45px 0;">16</div>
<div class="t" style="top:499.00px;font-size:13.4px;line-height:13.4px;font-weight:normal;color:#FFFFFF;left:762.52px;transform:scaleX(0.9663);transform-origin:20.48px 0;">159,50</div>
<div class="t" style="top:530.00px;font-size:13.4px;line-height:13.4px;font-weight:normal;color:#FFFFFF;left:13.73px;transform:scaleX(0.8885);transform-origin:13.77px 0;">DNF</div>
<div class="t" style="top:530.00px;font-size:13.4px;line-height:13.4px;font-weight:normal;color:#FFFFFF;left:64.00px;transform:scaleX(0.8668);transform-origin:0 0;">KNISPEL Phillip (10 - GER)</div>
<div class="t" style="top:530.00px;font-size:13.4px;line-height:13.4px;font-weight:normal;color:#FFFFFF;left:253.00px;transform:scaleX(0.9419);transform-origin:0 0;">Bowlerspoint Juniors</div>
<div class="t" style="top:530.00px;font-size:13.4px;line-height:13.4px;font-weight:normal;color:#FFFFFF;left:452.83px;transform:scaleX(0.9680);transform-origin:11.17px 0;">781</div>
<div class="t" style="top:530.00px;font-size:13.4px;line-height:13.4px;font-weight:normal;color:#FFFFFF;left:516.33px;transform:scaleX(0.9680);transform-origin:11.17px 0;">956</div>
<div class="t" style="top:530.00px;font-size:13.4px;line-height:13.4px;font-weight:normal;color:#FFFFFF;left:587.27px;transform:scaleX(0.9680);transform-origin:3.73px 0;">0</div>
<div class="t" style="top:530.00px;font-size:13.4px;line-height:13.4px;font-weight:normal;color:#FFFFFF;left:640.60px;transform:scaleX(0.9675);transform-origin:14.90px 0;">1737</div>
<div class="t" style="top:530.00px;font-size:13.4px;line-height:13.4px;font-weight:normal;color:#FFFFFF;left:711.55px;transform:scaleX(0.9669);transform-origin:7.45px 0;">16</div>
<div class="t" style="top:530.00px;font-size:13.4px;line-height:13.4px;font-weight:normal;color:#FFFFFF;left:762.52px;transform:scaleX(0.9663);transform-origin:20.48px 0;">108,56</div>
<div class="t" style="top:7.00px;font-size:37.6px;line-height:37.6px;font-weight:bold;color:#fff;left:33.00px;transform:scaleX(0.9667);transform-origin:0 0;">Tiroler Landesmeisterschaften 2023 / 2024</div>
<div class="t" style="top:56.00px;font-size:28.7px;line-height:28.7px;font-weight:bold;color:#000;left:164.99px;transform:scaleX(0.8991);transform-origin:51.01px 0;">EINZEL</div>
<div class="t" style="top:56.00px;font-size:28.7px;line-height:28.7px;font-weight:bold;color:#000;left:541.41px;transform:scaleX(0.9407);transform-origin:82.09px 0;">VORRUNDE</div>
<div class="t" style="top:56.00px;font-size:28.7px;line-height:28.7px;font-weight:bold;color:#000;left:978.70px;transform:scaleX(0.9148);transform-origin:51.80px 0;">FINALE</div>
</body></html>
